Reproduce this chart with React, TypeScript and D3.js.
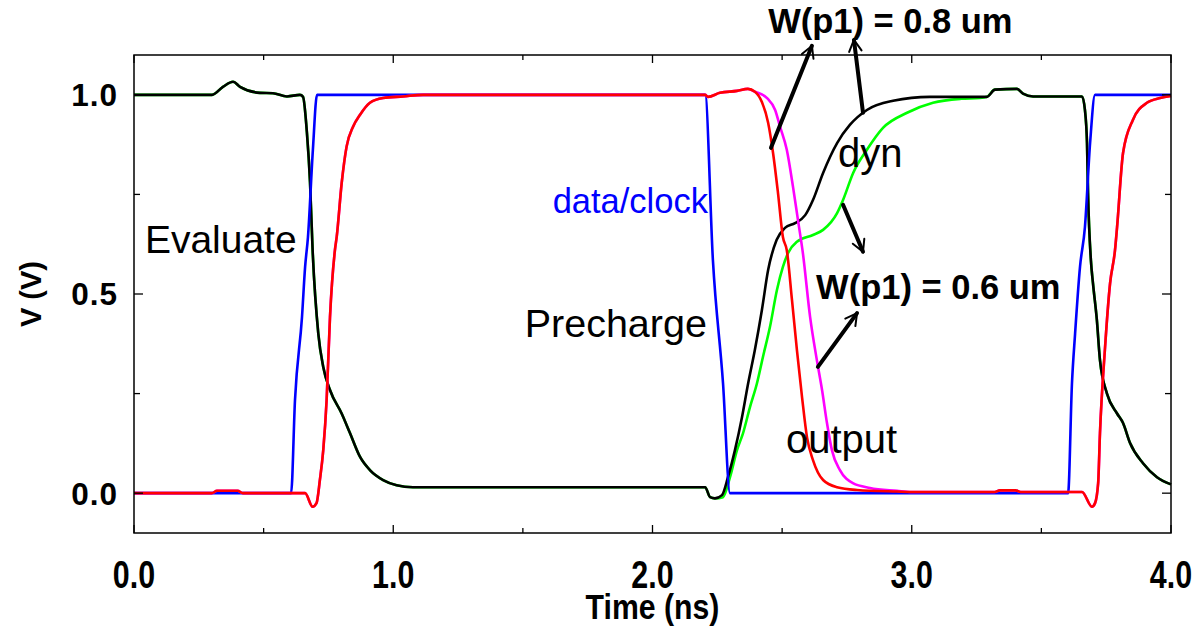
import React from 'react'
import * as d3 from 'd3'

// chart size and plot frame
const W = 1203
const H = 630
const margin = {top: 55, right: 32, bottom: 97, left: 134}

const xTicks = [0, 1, 2, 3, 4]
const xMinor = [0.5, 1.5, 2.5, 3.5]
const yTicks = [0, 0.5, 1]
const yMinor = [0.25, 0.75]

// [time ns, volts]
const clock: [number, number][] = [
  [0, 0], [0.606, 0], [0.621, 0.234], [0.648, 0.442], [0.66, 0.568], [0.671, 0.643], [0.69, 0.862], [0.706, 1],
  [2.203, 1], [2.233, 0.585], [2.272, 0.276], [2.299, 0],
  [3.603, 0], [3.618, 0.276], [3.63, 0.4], [3.649, 0.568], [3.668, 0.668], [3.688, 0.88], [3.707, 1], [4, 1]
]

// dyn node, shared part (both widths overlap here)
const dynStart: [number, number][] = [
  [0, 1], [0.301, 1], [0.343, 1.02], [0.382, 1.033], [0.409, 1.02], [0.486, 1.005], [0.536, 1.004], [0.59, 0.996], [0.64, 1.0],
  [0.652, 0.995], [0.667, 0.905], [0.679, 0.78], [0.689, 0.61], [0.711, 0.4], [0.73, 0.317], [0.756, 0.259],
  [0.801, 0.2], [0.833, 0.151], [0.872, 0.091], [0.91, 0.058], [0.961, 0.033], [1.013, 0.02], [1.076, 0.015],
  [2.203, 0.015], [2.222, -0.01], [2.241, -0.013]
]
const dyn08Rise: [number, number][] = [
  [2.268, -0.005], [2.291, 0.04], [2.318, 0.108], [2.345, 0.19], [2.369, 0.276], [2.395, 0.36], [2.422, 0.46],
  [2.446, 0.56], [2.479, 0.636], [2.511, 0.666], [2.55, 0.678], [2.589, 0.698], [2.619, 0.736], [2.658, 0.804],
  [2.712, 0.879], [2.762, 0.925], [2.827, 0.962], [2.928, 0.985], [3.07, 0.995], [3.263, 0.995]
]
const dyn06Rise: [number, number][] = [
  [2.272, -0.01], [2.299, 0.04], [2.326, 0.108], [2.349, 0.15], [2.376, 0.216], [2.403, 0.276], [2.426, 0.342],
  [2.453, 0.417], [2.48, 0.51], [2.503, 0.568], [2.523, 0.603], [2.557, 0.631], [2.619, 0.648], [2.658, 0.661],
  [2.712, 0.703], [2.735, 0.736], [2.774, 0.804], [2.827, 0.862], [2.889, 0.917], [2.982, 0.955], [3.082, 0.98],
  [3.19, 0.99], [3.263, 0.992]
]
const dynEnd: [number, number][] = [
  [3.29, 0.995], [3.321, 1.013], [3.406, 1.015], [3.429, 1.003], [3.468, 0.996], [3.657, 0.996], [3.668, 0.962],
  [3.676, 0.879], [3.68, 0.754], [3.691, 0.585], [3.699, 0.527], [3.714, 0.435], [3.726, 0.334], [3.753, 0.25],
  [3.792, 0.2], [3.815, 0.176], [3.842, 0.126], [3.892, 0.075], [3.946, 0.04], [4.0, 0.022]
]

// output node
const outStart: [number, number][] = [
  [0, 0], [0.3, 0], [0.32, 0.006], [0.4, 0.006], [0.42, 0], [0.66, 0], [0.689, -0.034], [0.704, -0.025],
  [0.717, 0.033], [0.73, 0.108], [0.743, 0.234], [0.756, 0.442], [0.775, 0.61], [0.782, 0.644], [0.801, 0.778],
  [0.82, 0.87], [0.845, 0.92], [0.872, 0.95], [0.91, 0.98], [0.961, 0.992], [1.038, 0.996], [1.115, 1.0],
  [2.203, 1.0], [2.214, 0.995], [2.26, 1.005], [2.326, 1.01], [2.368, 1.015], [2.395, 1.008]
]
const out08Fall: [number, number][] = [
  [2.422, 0.982], [2.446, 0.93], [2.465, 0.854], [2.484, 0.754], [2.503, 0.643], [2.518, 0.61], [2.538, 0.485],
  [2.557, 0.36], [2.577, 0.24], [2.596, 0.14], [2.619, 0.083], [2.658, 0.033], [2.712, 0.015], [2.789, 0.008],
  [2.943, 0.004]
]
const out06Fall: [number, number][] = [
  [2.403, 1.006], [2.442, 0.992], [2.473, 0.962], [2.492, 0.92], [2.518, 0.862], [2.542, 0.769], [2.561, 0.686],
  [2.58, 0.603], [2.608, 0.442], [2.634, 0.334], [2.654, 0.259], [2.673, 0.176], [2.692, 0.108], [2.723, 0.058],
  [2.773, 0.025], [2.839, 0.013], [2.943, 0.006]
]
const outEnd: [number, number][] = [
  [3.0, 0.003], [3.32, 0.003], [3.34, 0.007], [3.4, 0.007], [3.42, 0.003], [3.657, 0.003], [3.695, -0.034],
  [3.707, -0.025], [3.719, 0.025], [3.726, 0.15], [3.745, 0.36], [3.765, 0.527], [3.784, 0.61], [3.792, 0.668],
  [3.815, 0.854], [3.853, 0.937], [3.907, 0.98], [3.958, 0.992], [4.0, 0.997]
]

const series = [
  {name: 'dyn06', color: '#00ff00', pts: [...dynStart, ...dyn06Rise, ...dynEnd]},
  {name: 'dyn08', color: '#000000', pts: [...dynStart, ...dyn08Rise, ...dynEnd]},
  {name: 'clock', color: '#0000ff', pts: clock},
  {name: 'out06', color: '#ff00ff', pts: [...outStart, ...out06Fall, ...outEnd]},
  {name: 'out08', color: '#ff0000', pts: [...outStart, ...out08Fall, ...outEnd]}
]

// text annotations, placed in data units
const notes = [
  {text: 'Evaluate', t: 0.042, v: 0.603, anchor: 'start', color: '#000', size: 39, bold: false},
  {text: 'data/clock', t: 2.214, v: 0.704, anchor: 'end', color: '#0000ff', size: 34.5, bold: false},
  {text: 'Precharge', t: 2.21, v: 0.392, anchor: 'end', color: '#000', size: 39.5, bold: false},
  {text: 'dyn', t: 2.716, v: 0.819, anchor: 'start', color: '#000', size: 40, bold: false},
  {text: 'output', t: 2.515, v: 0.1, anchor: 'start', color: '#000', size: 40, bold: false},
  {text: 'W(p1) = 0.8 um', t: 2.446, v: 1.156, anchor: 'start', color: '#000', size: 34.5, bold: true},
  {text: 'W(p1) = 0.6 um', t: 2.631, v: 0.487, anchor: 'start', color: '#000', size: 34.5, bold: true}
]

// arrows: [from t, from v, to t, to v]
const arrows = [
  [2.457, 0.867, 2.615, 1.123],
  [2.812, 0.955, 2.777, 1.138],
  [2.735, 0.724, 2.812, 0.606],
  [2.638, 0.317, 2.789, 0.452]
]

export default function App () {
  const x = d3.scaleLinear().domain([0, 4]).range([margin.left, W - margin.right])
  const y = d3.scaleLinear().domain([-0.1, 1.1]).range([H - margin.bottom, margin.top])
  const line = d3.line<[number, number]>()
    .x(d => x(d[0]))
    .y(d => y(d[1]))
    .curve(d3.curveMonotoneX)

  const x0 = x(0)
  const x1 = x(4)
  const y0 = y(-0.1)
  const y1 = y(1.1)

  const arrowHead = (a: number[]) => {
    const sx = x(a[0]), sy = y(a[1]), ex = x(a[2]), ey = y(a[3])
    const ang = Math.atan2(ey - sy, ex - sx)
    const len = 13
    const p1 = [ex - len * Math.cos(ang - 0.5), ey - len * Math.sin(ang - 0.5)]
    const p2 = [ex - len * Math.cos(ang + 0.5), ey - len * Math.sin(ang + 0.5)]
    return `M${p1[0]},${p1[1]}L${ex},${ey}L${p2[0]},${p2[1]}`
  }

  return (
    <svg width={W} height={H} style={{position: 'absolute', left: 0, top: 0, background: '#fff'}}
      fontFamily="'Liberation Sans', Arial, sans-serif">
      {/* curves */}
      <g fill="none" strokeWidth={2.6} strokeLinejoin="round">
        {series.map(s => (
          <path key={s.name} d={line(s.pts) || ''} stroke={s.color} />
        ))}
      </g>

      {/* frame */}
      <rect x={x0} y={y1} width={x1 - x0} height={y0 - y1} fill="none" stroke="#000" strokeWidth={1.5} />

      {/* ticks */}
      <g stroke="#000" strokeWidth={1.3}>
        {xTicks.map(t => (
          <g key={'xt' + t}>
            <line x1={x(t)} x2={x(t)} y1={y0} y2={y0 - 8} />
            <line x1={x(t)} x2={x(t)} y1={y1} y2={y1 + 8} />
          </g>
        ))}
        {xMinor.map(t => (
          <g key={'xm' + t}>
            <line x1={x(t)} x2={x(t)} y1={y0} y2={y0 - 5} />
            <line x1={x(t)} x2={x(t)} y1={y1} y2={y1 + 5} />
          </g>
        ))}
        {yTicks.map(v => (
          <g key={'yt' + v}>
            <line x1={x0} x2={x0 + 9} y1={y(v)} y2={y(v)} />
            <line x1={x1} x2={x1 - 9} y1={y(v)} y2={y(v)} />
          </g>
        ))}
        {yMinor.map(v => (
          <g key={'ym' + v}>
            <line x1={x0} x2={x0 + 6} y1={y(v)} y2={y(v)} />
            <line x1={x1} x2={x1 - 6} y1={y(v)} y2={y(v)} />
          </g>
        ))}
      </g>

      {/* tick labels */}
      <g fontWeight="bold" fontSize={31.5} textAnchor="end" letterSpacing={1}>
        {yTicks.map(v => (
          <text key={'yl' + v} x={x0 - 16} y={y(v)} dy="0.36em">{d3.format('.1f')(v)}</text>
        ))}
      </g>
      {/* condensed bold for the x axis, as in the reference */}
      <g fontWeight="bold" fontSize={39} textAnchor="middle">
        {xTicks.map(t => (
          <text key={'xl' + t} transform={`translate(${x(t)},588) scale(0.78,1)`}>{d3.format('.1f')(t)}</text>
        ))}
        <text transform={`translate(${(x0 + x1) / 2},619) scale(0.84,1)`} fontSize={36}>Time (ns)</text>
      </g>
      <text transform={`translate(41,${y(0.5)}) rotate(-90)`} textAnchor="middle" fontWeight="bold" fontSize={29}>V (V)</text>

      {/* annotations */}
      {notes.map(n => (
        <text key={n.text} x={x(n.t)} y={y(n.v)} textAnchor={n.anchor} fill={n.color} fontSize={n.size}
          fontWeight={n.bold ? 'bold' : 'normal'}>{n.text}</text>
      ))}
      <g stroke="#000" fill="none" strokeLinecap="round">
        {arrows.map((a, i) => (
          <g key={'ar' + i}>
            <line x1={x(a[0])} y1={y(a[1])} x2={x(a[2])} y2={y(a[3])} strokeWidth={4} />
            <path d={arrowHead(a)} strokeWidth={2} />
          </g>
        ))}
      </g>
    </svg>
  )
}
